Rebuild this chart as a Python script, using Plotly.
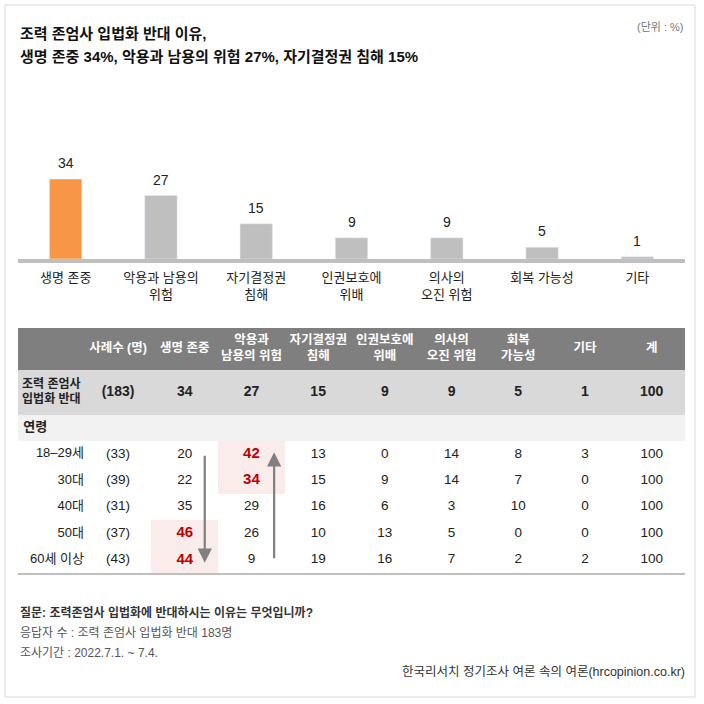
import numpy as np
import plotly.graph_objects as go

# ---- data: bar chart ----
reasons = ["생명 존중", "악용과 남용의<br>위험", "자기결정권<br>침해", "인권보호에<br>위배",
           "의사의<br>오진 위험", "회복 가능성", "기타"]
reason_pct = [34, 27, 15, 9, 9, 5, 1]

# ---- data: table ----
col_heads = ["사례수 (명)", "생명 존중", "악용과<br>남용의 위험", "자기결정권<br>침해",
             "인권보호에<br>위배", "의사의<br>오진 위험", "회복<br>가능성", "기타", "계"]
total_label = "조력 존엄사<br>입법화 반대"
total_n = 183
total_pct = [34, 27, 15, 9, 9, 5, 1, 100]
group_label = "연령"
age_groups = ["18–29세", "30대", "40대", "50대", "60세 이상"]
age_n = [33, 39, 31, 37, 43]
age_pct = [
    [20, 42, 13, 0, 14, 8, 3, 100],
    [22, 34, 15, 9, 14, 7, 0, 100],
    [35, 29, 16, 6, 3, 10, 0, 100],
    [46, 26, 10, 13, 5, 0, 0, 100],
    [44, 9, 19, 16, 7, 2, 2, 100],
]
# (age row, answer column) cells marked in red
highlights = [(0, 1), (1, 1), (3, 0), (4, 0)]

# ---- style ----
W = H = 704
FONT = "Liberation Sans, Noto Sans CJK KR"
ORANGE = "#F79646"
BAR_GRAY = "#BFBFBF"
HEAD_GRAY = "#7F7F7F"
ROW_GRAY = "#D9D9D9"
SUB_GRAY = "#F2F2F2"
PINK = "#FBECEC"
RED = "#C00000"
INK = "#222222"

def px_x(p):
    return p / W

def px_y(p):
    return 1 - p / H

left, right = 18, 685

fig = go.Figure()

# ---- bar chart ----
bar_colors = [ORANGE] + [BAR_GRAY] * (len(reasons) - 1)
fig.add_trace(go.Bar(x=reasons, y=reason_pct, marker_color=bar_colors,
                     width=0.34, hoverinfo="skip"))

for cat, v in zip(reasons, reason_pct):
    fig.add_annotation(x=cat, y=v, text=str(v), showarrow=False,
                       yanchor="bottom", yshift=6,
                       font=dict(family=FONT, size=14, color=INK))

# ---- table ----
row_h = [42, 45, 26] + [26.4] * len(age_groups)
y_edges = np.concatenate([[0], np.cumsum(row_h)])
y_mid = (y_edges[:-1] + y_edges[1:]) / 2
n_cols = len(col_heads) + 1

z = [[1] * n_cols, [2] * n_cols, [3] * n_cols]
for r in range(len(age_groups)):
    row = [0] * n_cols
    for hr, hc in highlights:
        if hr == r:
            row[hc + 2] = 4
    z.append(row)

cs = []
for i, c in enumerate(["#FFFFFF", HEAD_GRAY, ROW_GRAY, SUB_GRAY, PINK]):
    cs += [[i / 5, c], [(i + 1) / 5, c]]

fig.add_trace(go.Heatmap(z=z, x=np.arange(n_cols + 1), y=y_edges,
                         colorscale=cs, zmin=-0.5, zmax=4.5, showscale=False,
                         hoverinfo="skip", xaxis="x2", yaxis="y2"))

col_x = np.arange(n_cols) + 0.5

def add_text(xs, ys, texts, size, color, weight="normal", pos="middle center"):
    fig.add_trace(go.Scatter(x=xs, y=ys, text=texts, mode="text",
                             textposition=pos, hoverinfo="skip",
                             textfont=dict(family=FONT, size=size, color=color,
                                           weight=weight),
                             xaxis="x2", yaxis="y2", showlegend=False))

# header
add_text(col_x[1:], [y_mid[0]] * len(col_heads), col_heads, 12.5, "white", "bold")
# total row
add_text([col_x[0]], [y_mid[1]], [total_label], 12, INK, 600)
add_text(col_x[1:], [y_mid[1]] * (len(total_pct) + 1),
         [f"({total_n})"] + [str(v) for v in total_pct], 14, INK, 600)
# group row
add_text([0.08], [y_mid[2]], [group_label], 13, INK, 600, "middle right")

# age rows
add_text([0.99] * len(age_groups), y_mid[3:], age_groups, 13, INK, "normal", "middle left")
add_text([col_x[1]] * len(age_groups), y_mid[3:], [f"({n})" for n in age_n], 13.5, INK)
nx, ny, nt, hx, hy, ht = [], [], [], [], [], []
for r, vals in enumerate(age_pct):
    for c, v in enumerate(vals):
        if (r, c) in highlights:
            hx.append(col_x[c + 2]); hy.append(y_mid[r + 3]); ht.append(str(v))
        else:
            nx.append(col_x[c + 2]); ny.append(y_mid[r + 3]); nt.append(str(v))
add_text(nx, ny, nt, 13.5, INK)
add_text(hx, hy, ht, 15, RED, "bold")

# trend arrows
first, last = y_mid[3], y_mid[-1]
fig.add_annotation(x=2.8, y=last + 3, ax=2.8, ay=first, xref="x2", yref="y2",
                   axref="x2", ayref="y2", text="", showarrow=True,
                   arrowhead=2, arrowsize=1.3, arrowwidth=2.2, arrowcolor="#808080")
fig.add_annotation(x=3.84, y=first - 2, ax=3.84, ay=last, xref="x2", yref="y2",
                   axref="x2", ayref="y2", text="", showarrow=True,
                   arrowhead=2, arrowsize=1.3, arrowwidth=2.2, arrowcolor="#808080")

# ---- texts ----
def add_note(x, y, text, size, color, weight="normal", xanchor="left"):
    fig.add_annotation(x=px_x(x), y=px_y(y), xref="paper", yref="paper",
                       text=text, showarrow=False, xanchor=xanchor, yanchor="middle",
                       font=dict(family=FONT, size=size, color=color, weight=weight))

add_note(left, 33, "조력 존엄사 입법화 반대 이유,", 15, "#111111", "bold")
add_note(left, 57, "생명 존중 34%, 악용과 남용의 위험 27%, 자기결정권 침해 15%", 15,
         "#111111", "bold")
add_note(686, 27, "(단위 : %)", 11, "#777777", xanchor="right")
add_note(left, 612, "질문: 조력존엄사 입법화에 반대하시는 이유는 무엇입니까?", 12,
         "#333333", 600)
add_note(left, 633, "응답자 수 : 조력 존엄사 입법화 반대 183명", 12, "#555555")
add_note(left, 653, "조사기간 : 2022.7.1. ~ 7.4.", 12, "#555555")
add_note(687, 672, "한국리서치 정기조사 여론 속의 여론(hrcopinion.co.kr)", 12.5,
         "#333333", xanchor="right")

# outer frame
fig.add_shape(type="rect", xref="paper", yref="paper",
              x0=px_x(5), x1=px_x(695), y0=px_y(697), y1=px_y(5),
              line=dict(color="#D9D9D9", width=1))

fig.update_layout(
    width=W, height=H, margin=dict(l=0, r=0, t=0, b=0),
    paper_bgcolor="white", plot_bgcolor="rgba(0,0,0,0)",
    showlegend=False,
    xaxis=dict(domain=[px_x(left), px_x(right)], range=[-0.5, len(reasons) - 0.5],
               showgrid=False, zeroline=False, showline=True, linewidth=4,
               linecolor=BAR_GRAY, ticks="", ticklabelstandoff=3,
               tickfont=dict(family=FONT, size=13, color=INK), fixedrange=True),
    yaxis=dict(domain=[px_y(259), px_y(165)], range=[0, 40], visible=False,
               fixedrange=True),
    xaxis2=dict(domain=[px_x(left), px_x(right)], range=[0, n_cols], anchor="y2",
                showgrid=False, zeroline=False, showticklabels=False,
                showline=True, linecolor="#BFBFBF", linewidth=1.5, fixedrange=True),
    yaxis2=dict(domain=[px_y(573), px_y(328)], range=[y_edges[-1], 0], anchor="x2",
                visible=False, fixedrange=True),
)

# drop the page's default body margin so the figure sits at the window's corner
fig.write_html("out.html", config=dict(displayModeBar=False),
               post_script="document.body.style.margin='0';")
